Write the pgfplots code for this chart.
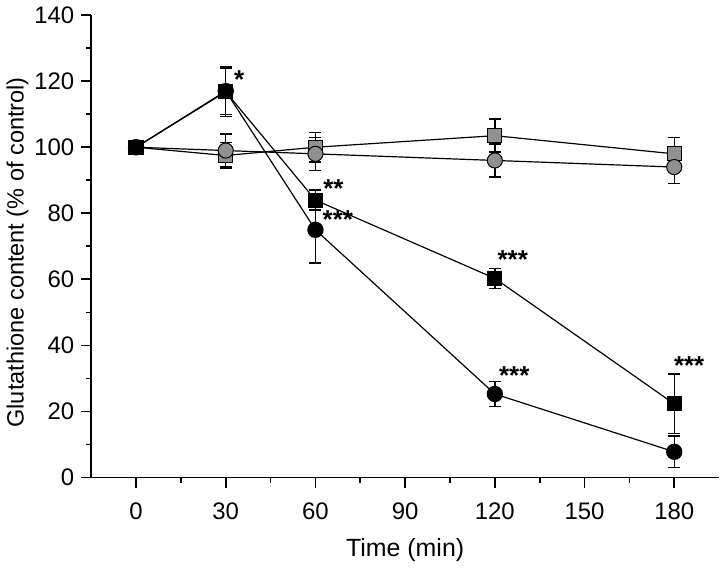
\documentclass[border=0pt]{standalone}
\usepackage{pgfplots}
\pgfplotsset{compat=1.18}
\usepackage{fontspec}
\setmainfont{Liberation Sans}
\definecolor{mgray}{RGB}{145,145,145}
\begin{document}
\begin{tikzpicture}
\begin{axis}[
  scale only axis, width=315pt, height=232pt,
  xmin=-15, xmax=195, ymin=0, ymax=140,
  axis x line=bottom, axis y line=left,
  axis line style={-, line width=0.9pt},
  xtick={0,30,60,90,120,150,180}, ytick={0,20,...,140},
  minor x tick num=1, minor y tick num=1,
  tick align=outside, tickwidth=5pt, subtickwidth=2.5pt,
  major tick style={line width=0.9pt, black}, minor tick style={line width=0.9pt, black},
  tick label style={font=\fontsize{12}{14}\selectfont},
  xticklabel style={yshift=-4pt},
  /pgf/number format/assume math mode=true,
  xlabel={Time (min)}, ylabel={Glutathione content (\% of control)},
  xlabel style={font=\fontsize{12.5}{14}\selectfont, yshift=-2.5pt},
  ylabel style={font=\fontsize{11.8}{14}\selectfont, yshift=-4pt, xshift=-3pt},
  clip=false,
  every axis plot/.append style={line width=0.6pt, black},
  error bars/error bar style={line width=0.7pt, black},
  error bars/error mark options={rotate=90, mark size=3pt, line width=0.7pt},
]
% gray squares
\addplot[mark=square*, mark size=3.5pt, mark options={fill=mgray, draw=black, line width=0.5pt},
  error bars/.cd, y dir=both, y explicit] table[x=x,y=y,y error=e] {
x y e
0 100 0
30 97.5 4
60 100 4.5
120 103.5 5
180 98 5
};
% gray circles
\addplot[mark=*, mark size=3.8pt, mark options={fill=mgray, draw=black, line width=0.5pt},
  error bars/.cd, y dir=both, y explicit] table[x=x,y=y,y error=e] {
x y e
0 100 0
30 99 5
60 98 5
120 96 5
180 94 5
};
% black squares
\addplot[mark=square*, mark size=3.5pt, mark options={fill=black, draw=black},
  error bars/.cd, y dir=both, y explicit] table[x=x,y=y,y error=e] {
x y e
0 100 0
30 116.8 7.5
60 84 3
120 60.3 3
180 22.3 9
};
% black circles
\addplot[mark=*, mark size=3.8pt, mark options={fill=black, draw=black},
  error bars/.cd, y dir=both, y explicit] table[x=x,y=y,y error=e] {
x y e
0 100 0
30 117 7
60 75 10
120 25.3 3.7
180 7.8 4.8
};
\node[font=\bfseries\fontsize{13}{13}\selectfont] at (axis cs:34.5,120.5) {*};
\node[font=\bfseries\fontsize{13}{13}\selectfont] at (axis cs:66,87.5) {**};
\node[font=\bfseries\fontsize{13}{13}\selectfont] at (axis cs:67.5,78) {***};
\node[font=\bfseries\fontsize{13}{13}\selectfont] at (axis cs:126,66) {***};
\node[font=\bfseries\fontsize{13}{13}\selectfont] at (axis cs:126.5,31) {***};
\node[font=\bfseries\fontsize{13}{13}\selectfont] at (axis cs:185,34) {***};
\end{axis}
\end{tikzpicture}
\end{document}
